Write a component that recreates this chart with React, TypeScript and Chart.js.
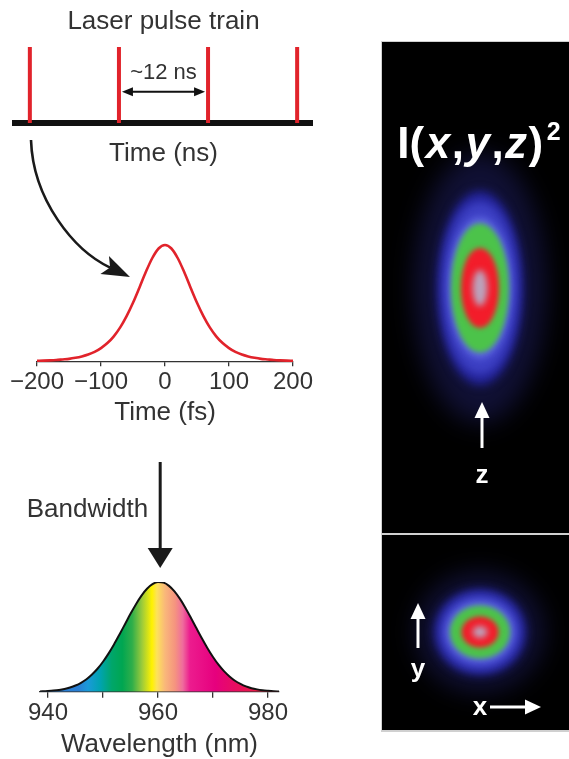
import React, { useEffect, useRef } from "react";
import { Chart, registerables } from "chart.js";

Chart.register(...registerables);

// ---------------- data ----------------
const pulseTimesNs = [0, 12, 24, 36];
const pulseHeights = [1, 1, 1, 1];
const pulseSpacingLabel = "~12 ns";

const timeFs = [
  -200, -190, -180, -170, -160, -150, -140, -130, -120, -110, -100, -90, -80, -70, -60, -50, -40, -30, -20, -10,
  0, 10, 20, 30, 40, 50, 60, 70, 80, 90, 100, 110, 120, 130, 140, 150, 160, 170, 180, 190, 200,
];
const pulseIntensity = [
  0.004, 0.005, 0.007, 0.01, 0.015, 0.02, 0.029, 0.041, 0.057, 0.08, 0.113, 0.156, 0.214, 0.291, 0.388, 0.503, 0.633, 0.767, 0.886, 0.97,
  1.0, 0.97, 0.886, 0.767, 0.633, 0.503, 0.388, 0.291, 0.214, 0.156, 0.113, 0.08, 0.057, 0.041, 0.029, 0.02, 0.015, 0.01, 0.007, 0.005, 0.004,
];
const timeTicks = [-200, -100, 0, 100, 200];

const wavelengthNm = [
  938, 939, 940, 941, 942, 943, 944, 945, 946, 947, 948, 949, 950, 951, 952, 953, 954, 955, 956, 957, 958, 959,
  960, 961, 962, 963, 964, 965, 966, 967, 968, 969, 970, 971, 972, 973, 974, 975, 976, 977, 978, 979, 980, 981, 982,
];
const spectrum = [
  0.002, 0.004, 0.007, 0.011, 0.017, 0.026, 0.039, 0.057, 0.082, 0.115, 0.158, 0.21, 0.274, 0.348, 0.431, 0.522, 0.616, 0.71, 0.798, 0.876, 0.938, 0.98,
  0.999, 0.994, 0.965, 0.915, 0.846, 0.764, 0.673, 0.578, 0.485, 0.397, 0.317, 0.247, 0.188, 0.14, 0.101, 0.072, 0.049, 0.033, 0.022, 0.014, 0.009, 0.005, 0.003,
];
const wavelengthTicks = [940, 950, 960, 970, 980];
const wavelengthTickLabels = ["940", "", "960", "", "980"];
const centerWavelength = 960.4;

// focal-volume contours (semi-axes, µm): outer halo -> centre
const xzWidthX = [0.66, 0.43, 0.375, 0.32, 0.29, 0.19, 0.075];
const xzWidthZ = [1.35, 0.97, 0.86, 0.71, 0.645, 0.4, 0.18];
const xyWidthX = [0.64, 0.46, 0.4, 0.345, 0.3, 0.185, 0.075];
const xyWidthY = [0.6, 0.43, 0.375, 0.31, 0.265, 0.155, 0.06];

// ---------------- styles ----------------
const FONT = '"Liberation Sans", Arial, Helvetica, sans-serif';
const TEXT = "#333333";
const RED = "#e1232b";
const ringColors = ["rgba(30,30,95,0.55)", "#24249c", "#3d40c4", "#5a62de", "#4cc34a", "#f31c2a", "#bba3bd"];
const ringBlur = [12, 5, 4, 3, 2.5, 2.5, 3];
const rainbowStopsNm = [945.5, 947.3, 949.5, 951.6, 953.5, 955.3, 957.1, 958.9, 959.8, 961.3, 963.1, 964.5, 965.8, 970.4, 974.9, 978.9];
const rainbowColors = [
  "#2a7fd4", "#1a9ad8", "#00a3b0", "#00a66a", "#00a651", "#2fae4a", "#9ccb3b", "#fff200", "#fde25a",
  "#f9b77a", "#f5947f", "#ef6c9d", "#ec1c8e", "#e6007e", "#e8115a", "#ea1d3f",
];

Chart.defaults.font.family = FONT;
Chart.defaults.color = TEXT;

const fmtMinus = (v: number) => (v < 0 ? "\u2212" + Math.abs(v) : String(v));

function arrowHead(ctx: CanvasRenderingContext2D, tx: number, ty: number, dx: number, dy: number, len: number, half: number, notch = 0) {
  const l = Math.hypot(dx, dy);
  const ux = dx / l, uy = dy / l;
  const nx = -uy, ny = ux;
  const bx = tx - ux * len, by = ty - uy * len;
  ctx.beginPath();
  ctx.moveTo(tx, ty);
  ctx.lineTo(bx + nx * half, by + ny * half);
  ctx.lineTo(tx - ux * (len - notch), ty - uy * (len - notch));
  ctx.lineTo(bx - nx * half, by - ny * half);
  ctx.closePath();
  ctx.fill();
}

// ---------------- chart configs ----------------
function pulseTrainConfig(): any {
  const data: any[] = [];
  pulseTimesNs.forEach((t, i) => {
    data.push({ x: t, y: 0 }, { x: t, y: pulseHeights[i] }, { x: t, y: null });
  });
  const spacing = {
    id: "spacing",
    afterDatasetsDraw(chart: any) {
      const { ctx, scales } = chart;
      const xs = scales.x, ys = scales.y;
      const x1 = xs.getPixelForValue(pulseTimesNs[1]) + 3;
      const x2 = xs.getPixelForValue(pulseTimesNs[2]) - 3;
      const yy = ys.getPixelForValue(0.41);
      ctx.save();
      ctx.strokeStyle = "#111";
      ctx.fillStyle = "#111";
      ctx.lineWidth = 2;
      ctx.beginPath();
      ctx.moveTo(x1 + 6, yy);
      ctx.lineTo(x2 - 6, yy);
      ctx.stroke();
      arrowHead(ctx, x1, yy, -1, 0, 11, 4.5);
      arrowHead(ctx, x2, yy, 1, 0, 11, 4.5);
      ctx.font = `22px ${FONT}`;
      ctx.fillStyle = TEXT;
      ctx.textAlign = "center";
      ctx.textBaseline = "middle";
      ctx.fillText(pulseSpacingLabel, (x1 + x2) / 2, ys.getPixelForValue(0.658));
      ctx.restore();
    },
  };
  return {
    type: "line",
    data: {
      datasets: [
        { data, borderColor: RED, borderWidth: 4, pointRadius: 0, spanGaps: false, borderCapStyle: "butt" },
      ],
    },
    options: {
      responsive: false,
      animation: false,
      layout: { padding: { left: 15, right: 18, top: 0, bottom: 0 } },
      plugins: {
        legend: { display: false },
        tooltip: { enabled: false },
        title: {
          display: true,
          text: "Laser pulse train",
          color: TEXT,
          font: { family: FONT, size: 26, weight: "normal" },
          padding: { top: 6.6, bottom: 9.2 },
        },
      },
      scales: {
        x: {
          type: "linear",
          min: -2,
          max: 38,
          border: { display: true, color: "#111", width: 6 },
          grid: { display: true, drawOnChartArea: false, drawTicks: false },
          ticks: { display: false },
          title: {
            display: true,
            text: "Time (ns)",
            color: TEXT,
            font: { family: FONT, size: 26 },
            padding: { top: 15.4, bottom: 0.4 },
          },
        },
        y: { display: false, min: 0, max: 1 },
      },
    },
    plugins: [spacing],
  };
}

function pulseShapeConfig(): any {
  const curvedArrow = {
    id: "curvedArrow",
    afterDraw(chart: any) {
      const ctx = chart.ctx;
      const T = [130, 147];
      const d = [0.904, 0.427];
      const N = [T[0] - 22 * d[0], T[1] - 22 * d[1]];
      ctx.save();
      ctx.strokeStyle = "#1a1a1a";
      ctx.fillStyle = "#1a1a1a";
      ctx.lineWidth = 2.6;
      ctx.beginPath();
      ctx.moveTo(31, 10);
      ctx.bezierCurveTo(33, 70, N[0] - 40 * d[0], N[1] - 40 * d[1], N[0], N[1]);
      ctx.stroke();
      arrowHead(ctx, T[0], T[1], d[0], d[1], 28, 10, 6);
      ctx.restore();
    },
  };
  return {
    type: "line",
    data: {
      datasets: [
        {
          data: timeFs.map((t, i) => ({ x: t, y: pulseIntensity[i] })),
          borderColor: RED,
          borderWidth: 2.6,
          pointRadius: 0,
          cubicInterpolationMode: "monotone",
          clip: false,
        },
      ],
    },
    options: {
      responsive: false,
      animation: false,
      layout: { padding: { left: 37, right: 37, top: 115, bottom: 0.5 } },
      plugins: { legend: { display: false }, tooltip: { enabled: false } },
      scales: {
        x: {
          type: "linear",
          min: -200,
          max: 200,
          afterBuildTicks: (s: any) => {
            s.ticks = timeTicks.map((v) => ({ value: v }));
          },
          ticks: {
            callback: (v: any) => fmtMinus(Number(v)),
            font: { family: FONT, size: 24 },
            color: TEXT,
            padding: 1.8,
            maxRotation: 0,
            autoSkip: false,
          },
          grid: { drawOnChartArea: false, drawTicks: true, tickLength: 5, color: "#333", lineWidth: 1.3 },
          border: { display: true, color: "#333", width: 1.3 },
          title: {
            display: true,
            text: "Time (fs)",
            color: TEXT,
            font: { family: FONT, size: 26, lineHeight: 1.1 },
            padding: { top: 0.3, bottom: 0 },
          },
        },
        y: { display: false, min: 0, max: 1 },
      },
    },
    plugins: [curvedArrow],
  };
}

function spectrumConfig(): any {
  const bandwidth = {
    id: "bandwidth",
    afterDraw(chart: any) {
      const { ctx, scales } = chart;
      const x = scales.x.getPixelForValue(centerWavelength);
      ctx.save();
      ctx.strokeStyle = "#1a1a1a";
      ctx.fillStyle = "#1a1a1a";
      ctx.lineWidth = 3;
      ctx.beginPath();
      ctx.moveTo(x, 22);
      ctx.lineTo(x, 112);
      ctx.stroke();
      arrowHead(ctx, x, 128, 0, 1, 20, 12.5);
      ctx.font = `26px ${FONT}`;
      ctx.fillStyle = TEXT;
      ctx.textAlign = "right";
      ctx.textBaseline = "middle";
      ctx.fillText("Bandwidth", x - 12, 70.2);
      ctx.restore();
    },
  };
  return {
    type: "line",
    data: {
      datasets: [
        {
          data: wavelengthNm.map((w, i) => ({ x: w, y: spectrum[i] })),
          borderColor: "#111",
          borderWidth: 2,
          pointRadius: 0,
          cubicInterpolationMode: "monotone",
          fill: "origin",
          backgroundColor: (c: any) => {
            const chart = c.chart;
            const xs = chart.scales && chart.scales.x;
            if (!chart.chartArea || !xs) return "transparent";
            const x0 = xs.getPixelForValue(rainbowStopsNm[0]);
            const x1 = xs.getPixelForValue(rainbowStopsNm[rainbowStopsNm.length - 1]);
            const g = chart.ctx.createLinearGradient(x0, 0, x1, 0);
            rainbowStopsNm.forEach((w, i) => {
              g.addColorStop((w - rainbowStopsNm[0]) / (rainbowStopsNm[rainbowStopsNm.length - 1] - rainbowStopsNm[0]), rainbowColors[i]);
            });
            return g;
          },
        },
      ],
    },
    options: {
      responsive: false,
      animation: false,
      layout: { padding: { left: 40, right: 51, top: 142, bottom: 0 } },
      plugins: { legend: { display: false }, tooltip: { enabled: false } },
      scales: {
        x: {
          type: "linear",
          min: 938.55,
          max: 982,
          afterBuildTicks: (s: any) => {
            s.ticks = wavelengthTicks.map((v) => ({ value: v }));
          },
          ticks: {
            callback: (_v: any, i: number) => wavelengthTickLabels[i],
            font: { family: FONT, size: 24 },
            color: TEXT,
            padding: 1.2,
            maxRotation: 0,
            autoSkip: false,
          },
          grid: { drawOnChartArea: false, drawTicks: true, tickLength: 6, color: "#333", lineWidth: 1.3 },
          border: { display: true, color: "#333", width: 1.3 },
          title: {
            display: true,
            text: "Wavelength (nm)",
            color: TEXT,
            font: { family: FONT, size: 26, lineHeight: 1.1 },
            padding: { top: 1.4, bottom: 0 },
          },
        },
        y: { display: false, min: 0, max: 1 },
      },
    },
    plugins: [bandwidth],
  };
}

function drawRings(chart: any, wA: number[], wB: number[]) {
  const { ctx, scales } = chart;
  const xs = scales.x, ys = scales.y;
  const cx = xs.getPixelForValue(0), cy = ys.getPixelForValue(0);
  ctx.save();
  ctx.fillStyle = "#000";
  ctx.fillRect(0, 0, chart.width, chart.height);
  wA.forEach((w, i) => {
    const rx = Math.abs(xs.getPixelForValue(w) - cx);
    const ry = Math.abs(ys.getPixelForValue(wB[i]) - cy);
    ctx.save();
    ctx.filter = `blur(${ringBlur[i]}px)`;
    ctx.fillStyle = ringColors[i];
    ctx.beginPath();
    ctx.ellipse(cx, cy, rx, ry, 0, 0, Math.PI * 2);
    ctx.fill();
    ctx.restore();
  });
  ctx.restore();
}

function whiteArrow(ctx: CanvasRenderingContext2D, x0: number, y0: number, x1: number, y1: number) {
  const dx = x1 - x0, dy = y1 - y0;
  const l = Math.hypot(dx, dy);
  const ux = dx / l, uy = dy / l;
  ctx.beginPath();
  ctx.moveTo(x0, y0);
  ctx.lineTo(x1 - ux * 12, y1 - uy * 12);
  ctx.stroke();
  arrowHead(ctx, x1, y1, dx, dy, 16, 7.5);
}

function beamXZConfig(): any {
  const plugin = {
    id: "beamXZ",
    beforeDatasetsDraw(chart: any) {
      drawRings(chart, xzWidthX, xzWidthZ);
    },
    afterDraw(chart: any) {
      const ctx = chart.ctx;
      ctx.save();
      ctx.fillStyle = "#fff";
      ctx.strokeStyle = "#fff";
      ctx.textBaseline = "alphabetic";
      const big = 44;
      const parts: [string, string][] = [
        ["I(", `bold ${big}px ${FONT}`],
        ["x", `italic bold ${big}px ${FONT}`],
        [",", `bold ${big}px ${FONT}`],
        ["y", `italic bold ${big}px ${FONT}`],
        [",", `bold ${big}px ${FONT}`],
        ["z", `italic bold ${big}px ${FONT}`],
        [")", `bold ${big}px ${FONT}`],
      ];
      const supFont = `bold 25px ${FONT}`;
      let total = 0;
      const widths = parts.map(([t, f]) => {
        ctx.font = f;
        const w = ctx.measureText(t).width + 1.5;
        total += w;
        return w;
      });
      ctx.font = supFont;
      const supW = ctx.measureText("2").width;
      total += supW + 2;
      let x = 97 - total / 2;
      const base = 116;
      ctx.textAlign = "left";
      parts.forEach(([t, f], i) => {
        ctx.font = f;
        ctx.fillText(t, x, base);
        x += widths[i];
      });
      ctx.font = supFont;
      ctx.fillText("2", x + 2, 98);
      // z axis arrow
      ctx.lineWidth = 3;
      whiteArrow(ctx, 100, 406, 100, 360);
      ctx.font = `bold 26px ${FONT}`;
      ctx.textAlign = "center";
      ctx.fillText("z", 100, 441);
      ctx.restore();
    },
  };
  return {
    type: "scatter",
    data: { datasets: [{ data: [{ x: 0, y: 0 }], pointRadius: 0 }] },
    options: {
      responsive: false,
      animation: false,
      layout: { padding: 0 },
      plugins: { legend: { display: false }, tooltip: { enabled: false } },
      scales: {
        x: { display: false, min: -0.98, max: 0.89 },
        y: { display: false, min: -2.45, max: 2.46 },
      },
    },
    plugins: [plugin],
  };
}

function beamXYConfig(): any {
  const plugin = {
    id: "beamXY",
    beforeDatasetsDraw(chart: any) {
      drawRings(chart, xyWidthX, xyWidthY);
    },
    afterDraw(chart: any) {
      const ctx = chart.ctx;
      ctx.save();
      ctx.fillStyle = "#fff";
      ctx.strokeStyle = "#fff";
      ctx.lineWidth = 3;
      whiteArrow(ctx, 36, 113, 36, 68);
      whiteArrow(ctx, 108, 172, 159, 172);
      ctx.font = `bold 26px ${FONT}`;
      ctx.textAlign = "center";
      ctx.textBaseline = "alphabetic";
      ctx.fillText("y", 36, 142);
      ctx.fillText("x", 98, 180);
      ctx.restore();
    },
  };
  return {
    type: "scatter",
    data: { datasets: [{ data: [{ x: 0, y: 0 }], pointRadius: 0 }] },
    options: {
      responsive: false,
      animation: false,
      layout: { padding: 0 },
      plugins: { legend: { display: false }, tooltip: { enabled: false } },
      scales: {
        x: { display: false, min: -0.98, max: 0.89 },
        y: { display: false, min: -0.98, max: 0.97 },
      },
    },
    plugins: [plugin],
  };
}

// ---------------- components ----------------
function ChartCanvas(props: { left: number; top: number; width: number; height: number; make: () => any; bg?: string }) {
  const ref = useRef<HTMLCanvasElement>(null);
  useEffect(() => {
    const chart = new Chart(ref.current as HTMLCanvasElement, props.make());
    return () => chart.destroy();
  }, []);
  return (
    <canvas
      ref={ref}
      width={props.width}
      height={props.height}
      style={{
        position: "absolute",
        left: props.left,
        top: props.top,
        width: props.width,
        height: props.height,
        background: props.bg || "transparent",
        display: "block",
      }}
    />
  );
}

export default function App() {
  return (
    <div
      style={{
        position: "fixed",
        left: 0,
        top: 0,
        width: 569,
        height: 759,
        overflow: "hidden",
        background: "#fff",
      }}
    >
      <div style={{ position: "absolute", left: 381, top: 41, width: 190, height: 691, background: "#d0d0d0" }} />
      <ChartCanvas left={382} top={42} width={187} height={491} make={beamXZConfig} bg="#000" />
      <ChartCanvas left={382} top={535} width={187} height={195} make={beamXYConfig} bg="#000" />
      <ChartCanvas left={0} top={0} width={330} height={170} make={pulseTrainConfig} />
      <ChartCanvas left={0} top={130} width={330} height={298} make={pulseShapeConfig} />
      <ChartCanvas left={0} top={440} width={330} height={319} make={spectrumConfig} />
    </div>
  );
}
